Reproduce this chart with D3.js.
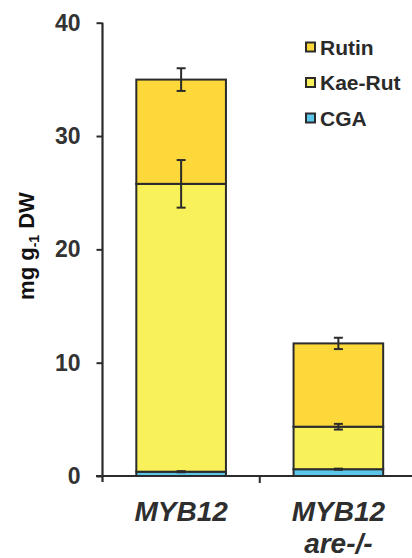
<!DOCTYPE html>
<html><head><meta charset="utf-8">
<script src="https://cdn.jsdelivr.net/npm/d3@7"></script>
<style>body{margin:0;background:#fff}svg{display:block}text{font-family:"Liberation Sans",Arial,sans-serif}</style>
</head><body>
<svg id="c" width="412" height="558"></svg>
<script>
const categories = ["MYB12", "MYB12 are-/-"];
const seriesNames = ["CGA", "Kae-Rut", "Rutin"];
const cgaValues = [0.38, 0.6];
const kaeRutValues = [25.4, 3.75];
const rutinValues = [9.2, 7.35];
const cgaErr = [0.05, 0.05];
const kaeRutErr = [2.1, 0.25];
const rutinErr = [1.0, 0.5];
const yTicks = [0, 10, 20, 30, 40];
const colors = {"CGA": "#5cc6ea", "Kae-Rut": "#f9f159", "Rutin": "#fcd83a"};
const legendOrder = ["Rutin", "Kae-Rut", "CGA"];

const valuesBy = {"CGA": cgaValues, "Kae-Rut": kaeRutValues, "Rutin": rutinValues};
const errBy = {"CGA": cgaErr, "Kae-Rut": kaeRutErr, "Rutin": rutinErr};
const rows = categories.map((c, i) => {
  const r = {cat: c};
  seriesNames.forEach(s => r[s] = valuesBy[s][i]);
  return r;
});
const stacked = d3.stack().keys(seriesNames)(rows);

const svg = d3.select("#c");
const ink = "#2b2b2b";
const y = d3.scaleLinear().domain([0, 40]).range([476, 22.7]);
const x = d3.scaleBand().domain(categories).range([102.5, 417]).paddingInner(0.43).paddingOuter(0.215);
const step = x.step();

// bars
stacked.forEach(layer => {
  svg.append("g").selectAll("rect").data(layer).join("rect")
    .attr("x", d => x(d.data.cat))
    .attr("y", d => y(d[1]))
    .attr("width", x.bandwidth())
    .attr("height", d => y(d[0]) - y(d[1]))
    .attr("fill", colors[layer.key])
    .attr("stroke", ink).attr("stroke-width", 2);
});

// error bars
stacked.forEach(layer => {
  const g = svg.append("g").attr("stroke", ink).attr("stroke-width", 2);
  layer.forEach((d, i) => {
    const cx = x(d.data.cat) + x.bandwidth() / 2;
    const e = errBy[layer.key][i];
    const y1 = y(d[1] + e), y2 = y(d[1] - e);
    const cw = 4.5;
    g.append("line").attr("x1", cx).attr("x2", cx).attr("y1", y1).attr("y2", y2);
    g.append("line").attr("x1", cx - cw).attr("x2", cx + cw).attr("y1", y1).attr("y2", y1);
    g.append("line").attr("x1", cx - cw).attr("x2", cx + cw).attr("y1", y2).attr("y2", y2);
  });
});

// y axis
const yAxis = svg.append("g").attr("transform", "translate(102.5,0)")
  .call(d3.axisLeft(y).tickValues(yTicks).tickSize(6).tickPadding(16).tickSizeOuter(0));
yAxis.select(".domain").attr("stroke", ink).attr("stroke-width", 2.2).attr("d", `M0,${y(40)}V${y(0)+6}`);
yAxis.selectAll(".tick line").attr("stroke", ink).attr("stroke-width", 2);
yAxis.selectAll(".tick text").attr("fill", "#333").attr("font-size", 23).attr("font-weight", "bold")
  .attr("font-family", '"Liberation Sans",Arial,sans-serif');

// x axis
const xg = svg.append("g");
xg.append("line").attr("x1", 96).attr("x2", 417).attr("y1", y(0)).attr("y2", y(0))
  .attr("stroke", ink).attr("stroke-width", 2.2);
const bounds = categories.map(c => x(c) - step * x.paddingInner() / 2).concat([x(categories[categories.length-1]) + x.bandwidth() + step * x.paddingInner() / 2]);
xg.selectAll("line.t").data(bounds.slice(1)).join("line").attr("class", "t")
  .attr("x1", d => d).attr("x2", d => d).attr("y1", y(0)).attr("y2", y(0) + 7)
  .attr("stroke", ink).attr("stroke-width", 2);

// x labels
categories.forEach(c => {
  const parts = c.split(" ");
  const t = svg.append("text").attr("text-anchor", "middle")
    .attr("font-size", 28).attr("font-weight", "bold").attr("font-style", "italic").attr("fill", "#2e2e2e");
  parts.forEach((p, i) => {
    t.append("tspan").attr("x", x(c) + x.bandwidth() / 2).attr("y", 521 + i * 32).text(p);
  });
});

// y title
const yt = svg.append("text").attr("transform", "translate(34,246) rotate(-90)")
  .attr("text-anchor", "middle").attr("font-size", 22).attr("font-weight", "bold").attr("fill", "#111");
yt.append("tspan").text("mg g");
yt.append("tspan").attr("font-size", 14).attr("dy", 5).text("-1");
yt.append("tspan").attr("dy", -5).text(" DW");

// legend
const lg = svg.append("g");
legendOrder.forEach((s, i) => {
  const cy = 47 + i * 35.5;
  lg.append("rect").attr("x", 306).attr("y", cy - 4.5).attr("width", 9).attr("height", 9)
    .attr("fill", colors[s]).attr("stroke", ink).attr("stroke-width", 2);
  lg.append("text").attr("x", 320).attr("y", cy + 7.5).attr("font-size", 21).attr("font-weight", "bold")
    .attr("fill", "#2a2a2a").text(s);
});
</script>
</body></html>
